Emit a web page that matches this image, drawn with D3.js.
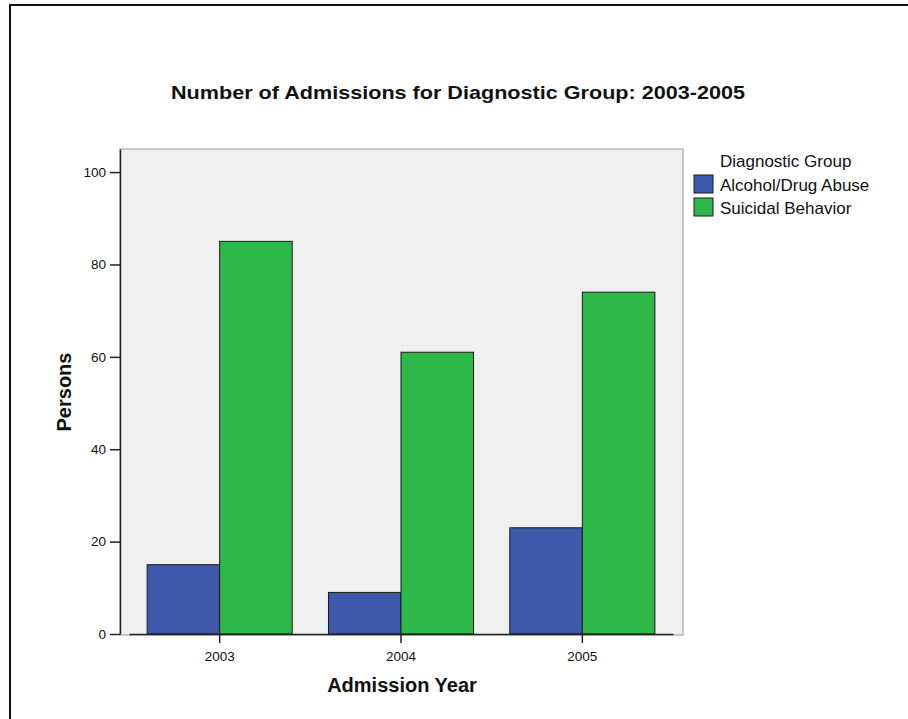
<!DOCTYPE html>
<html>
<head>
<meta charset="utf-8">
<script src="https://cdn.jsdelivr.net/npm/d3@7"></script>
<style>
  body { margin: 0; background: #fff; }
  text { font-family: "Liberation Sans", Arial, sans-serif; fill: #111; }
</style>
</head>
<body>
<div id="chart"></div>
<script>
var years = ["2003", "2004", "2005"];
var groups = ["Alcohol/Drug Abuse", "Suicidal Behavior"];
var alcohol = [15, 9, 23];
var suicidal = [85, 61, 74];
var yTicks = [0, 20, 40, 60, 80, 100];
var colors = ["#3e58ac", "#2fb84a"];

var width = 908;
var height = 719;

var svg = d3.select("#chart")
    .append("svg")
    .attr("width", width)
    .attr("height", height);

// outer frame
svg.append("rect")
    .attr("x", 10).attr("y", 5)
    .attr("width", width).attr("height", height)
    .attr("fill", "none")
    .attr("stroke", "#111")
    .attr("stroke-width", 2);

var plot = { left: 120, top: 149, right: 683, bottom: 635 };

// plot background
svg.append("rect")
    .attr("x", plot.left).attr("y", plot.top)
    .attr("width", plot.right - plot.left)
    .attr("height", plot.bottom - plot.top)
    .attr("fill", "#f0f0f0")
    .attr("stroke", "#999")
    .attr("stroke-width", 1);

var yScale = d3.scaleLinear()
    .domain([0, 105])
    .range([634, plot.top]);

var x0 = d3.scaleBand()
    .domain(years)
    .range([129, 673])
    .paddingInner(0.2)
    .paddingOuter(0.1);

var x1 = d3.scaleBand()
    .domain(groups)
    .range([0, x0.bandwidth()]);

var rows = years.map(function(y, i) {
    return { year: y, values: [alcohol[i], suicidal[i]] };
});

// bars
svg.append("g")
    .selectAll("g")
    .data(rows)
    .enter()
    .append("g")
    .attr("transform", function(d) { return "translate(" + x0(d.year) + ",0)"; })
    .selectAll("rect")
    .data(function(d) { return d.values.map(function(v, j) { return { g: groups[j], v: v, c: colors[j] }; }); })
    .enter()
    .append("rect")
    .attr("x", function(d) { return x1(d.g); })
    .attr("y", function(d) { return yScale(d.v); })
    .attr("width", x1.bandwidth())
    .attr("height", function(d) { return yScale(0) - yScale(d.v); })
    .attr("fill", function(d) { return d.c; })
    .attr("stroke", "#1a1a1a")
    .attr("stroke-width", 1);

// y axis
var axisY = d3.axisLeft(yScale)
    .tickValues(yTicks)
    .tickSizeInner(10)
    .tickSizeOuter(0)
    .tickPadding(4);

var gy = svg.append("g")
    .attr("transform", "translate(" + plot.left + ",0)")
    .call(axisY);
gy.selectAll("text").attr("font-size", 13.5).attr("font-family", null).style("fill", "#111");
gy.selectAll("line").attr("stroke", "#222").attr("stroke-width", 1.5);
gy.select(".domain").attr("stroke", "#222").attr("stroke-width", 1.5);

// x axis
var axisX = d3.axisBottom(x0)
    .tickSizeInner(9)
    .tickSizeOuter(0)
    .tickPadding(8);

var gx = svg.append("g")
    .attr("transform", "translate(0,634)")
    .call(axisX);
gx.selectAll("text").attr("font-size", 13.5).attr("font-family", null).style("fill", "#111");
gx.selectAll("line").attr("stroke", "#222").attr("stroke-width", 1.5);
gx.select(".domain").attr("stroke", "#222").attr("stroke-width", 1.5);

// title
svg.append("text")
    .attr("x", 458).attr("y", 99)
    .attr("text-anchor", "middle")
    .attr("font-size", 19)
    .attr("font-weight", "bold")
    .attr("textLength", 574)
    .attr("lengthAdjust", "spacingAndGlyphs")
    .text("Number of Admissions for Diagnostic Group: 2003-2005");

// axis titles
svg.append("text")
    .attr("transform", "translate(71,392) rotate(-90)")
    .attr("text-anchor", "middle")
    .attr("font-size", 20)
    .attr("font-weight", "bold")
    .text("Persons");

svg.append("text")
    .attr("x", 402).attr("y", 692)
    .attr("text-anchor", "middle")
    .attr("font-size", 20)
    .attr("font-weight", "bold")
    .text("Admission Year");

// legend
var legend = svg.append("g").attr("transform", "translate(694,0)");
legend.append("text")
    .attr("x", 26).attr("y", 167)
    .attr("font-size", 17)
    .text("Diagnostic Group");

var items = legend.selectAll("g.item")
    .data(groups)
    .enter()
    .append("g")
    .attr("class", "item")
    .attr("transform", function(d, i) { return "translate(0," + (175 + i * 23) + ")"; });

items.append("rect")
    .attr("width", 19).attr("height", 18)
    .attr("fill", function(d, i) { return colors[i]; })
    .attr("stroke", "#1a1a1a")
    .attr("stroke-width", 1);

items.append("text")
    .attr("x", 26).attr("y", 16)
    .attr("font-size", 17)
    .text(function(d) { return d; });
</script>
</body>
</html>
